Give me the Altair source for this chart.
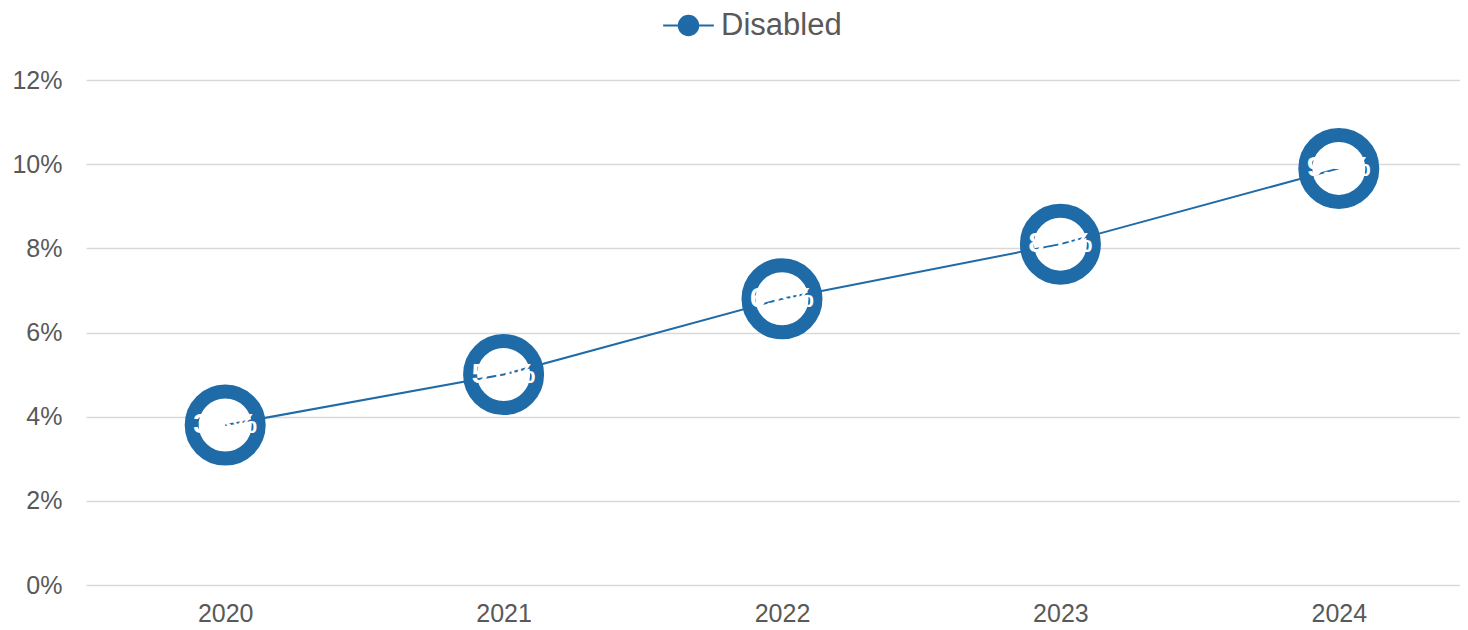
import altair as alt
import pandas as pd

years = ["2020", "2021", "2022", "2023", "2024"]
values = [0.038, 0.050, 0.068, 0.081, 0.099]
labels = ["3.8%", "5.0%", "6.8%", "8.1%", "9.9%"]
series = ["Disabled"] * 5

df = pd.DataFrame({"year": years, "value": values, "label": labels, "series": series})

BLUE = "#1F6BA8"
GREY = "#595959"
FONT = "Liberation Sans"

x = alt.X(
    "year:N",
    scale=alt.Scale(type="point", range=[0, 1392], padding=0.5),
    axis=alt.Axis(title=None, labelAngle=0, labelFontSize=25, labelColor=GREY,
                  labelFont=FONT, ticks=False, domain=False, labelPadding=16, grid=False),
)
y = alt.Y(
    "value:Q",
    scale=alt.Scale(domain=[0, 0.12], nice=False),
    axis=alt.Axis(title=None, format=".0%", values=[0, 0.02, 0.04, 0.06, 0.08, 0.10, 0.12],
                  labelFontSize=25, labelColor=GREY, labelFont=FONT, ticks=False,
                  domain=False, labelPadding=24, gridColor="#d9d9d9", gridWidth=1.5),
)

base = alt.Chart(df)

points = base.mark_point(filled=True, fill="white", stroke=BLUE, strokeWidth=14,
                         size=4489, opacity=1, shape="circle").encode(x=x, y=y)

legend_path = "M-1.3,0L1.3,0M-0.5,0A0.5,0.5 0 1,0 0.5,0A0.5,0.5 0 1,0 -0.5,0Z"

line = base.mark_line(strokeWidth=2).encode(
    x=x, y=y,
    color=alt.Color("series:N", scale=alt.Scale(range=[BLUE]),
                    legend=alt.Legend(title=None, orient="none", legendX=582, legendY=-75,
                                      symbolType=legend_path, symbolSize=1520,
                                      symbolFillColor=BLUE, symbolStrokeColor=BLUE,
                                      symbolStrokeWidth=2, labelFontSize=31,
                                      labelColor=GREY, labelFont=FONT, padding=0,
                                      labelOffset=12)),
)

text = base.mark_text(color="white", fontSize=28, fontWeight="bold", font=FONT,
                      align="center", baseline="middle").encode(x=x, y=y, text="label:N")

chart = alt.layer(points, line, text).properties(
    width=1374, height=505,
    autosize=alt.AutoSizeParams(type="none"),
    padding={"left": 78, "top": 72, "right": 0, "bottom": 44},
).configure(background="white").configure_view(stroke=None)

chart.save("out.html", embed_options={"renderer": "svg", "actions": False})
